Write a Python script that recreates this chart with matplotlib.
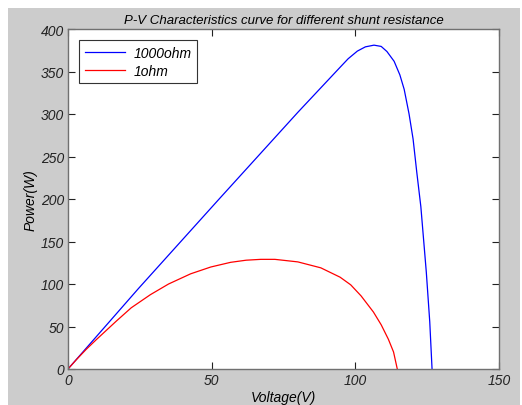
import numpy as np
import matplotlib.pyplot as plt
from matplotlib.patches import Rectangle

# values
v_1000 = [0, 24.5, 52.6, 80, 94.9, 97.5, 100.7, 103.5, 106.5, 109, 111, 113.5, 115.5, 117,
          118.7, 120.1, 121.4, 122.8, 124.7, 125.9, 126.7]
p_1000 = [0, 94.6, 200, 302, 355.7, 365, 374, 379, 381, 379.5, 373.5, 362, 346, 329,
          300, 270.5, 231, 191, 114, 55.5, 0]

v_1 = [0, 3, 6.3, 10, 16.7, 22, 28.7, 35, 42.7, 49.7, 56.6, 62, 67.1, 72, 80, 88, 94.7,
       98.4, 102, 106.3, 109, 111.5, 113.3, 114.6]
p_1 = [0, 11.3, 23, 35, 56, 72, 87.5, 100, 112, 120, 125.5, 128, 129, 129, 126, 119, 108,
       99, 86, 67, 52, 35, 20, 0]

xticks = [0, 50, 100, 150]
yticks = [0, 50, 100, 150, 200, 250, 300, 350, 400]

plt.rcParams['font.family'] = ['Liberation Sans', 'DejaVu Sans']
plt.rcParams['font.style'] = 'italic'

fig = plt.figure(figsize=(5.22, 4.06), dpi=100, facecolor='white')
bg = Rectangle((8/522, 0), 512/522, 397/406, transform=fig.transFigure,
               facecolor='#cccccc', edgecolor='none', zorder=-10)
fig.add_artist(bg)
ax = fig.add_axes([68/522, 36/406, 431/522, 340/406])
ax.set_facecolor('white')

ax.plot(v_1000, p_1000, color='#0000ff', lw=0.9, label='1000ohm')
ax.plot(v_1, p_1, color='#ff0000', lw=0.9, label='1ohm')

ax.set_xlim(0, 150)
ax.set_ylim(0, 400)
ax.set_xticks(xticks)
ax.set_yticks(yticks)
ax.tick_params(direction='in', length=5, width=0.8, top=True, right=True,
               labelsize=10, colors='#222222', pad=3)
for s in ax.spines.values():
    s.set_color('#707070')
    s.set_linewidth(1.0)

ax.set_title('P-V Characteristics curve for different shunt resistance', fontsize=9.5, pad=4)
ax.set_xlabel('Voltage(V)', fontsize=10, labelpad=2)
ax.set_ylabel('Power(W)', fontsize=10, labelpad=2)

leg = ax.legend(loc='upper left', fontsize=10, fancybox=False, framealpha=1,
                edgecolor='#333333', handlelength=2.9, handletextpad=0.6,
                borderaxespad=0.8, borderpad=0.4, labelspacing=0.3)
leg.get_frame().set_linewidth(0.8)

fig.savefig('out.png', dpi=100, facecolor=fig.get_facecolor())
